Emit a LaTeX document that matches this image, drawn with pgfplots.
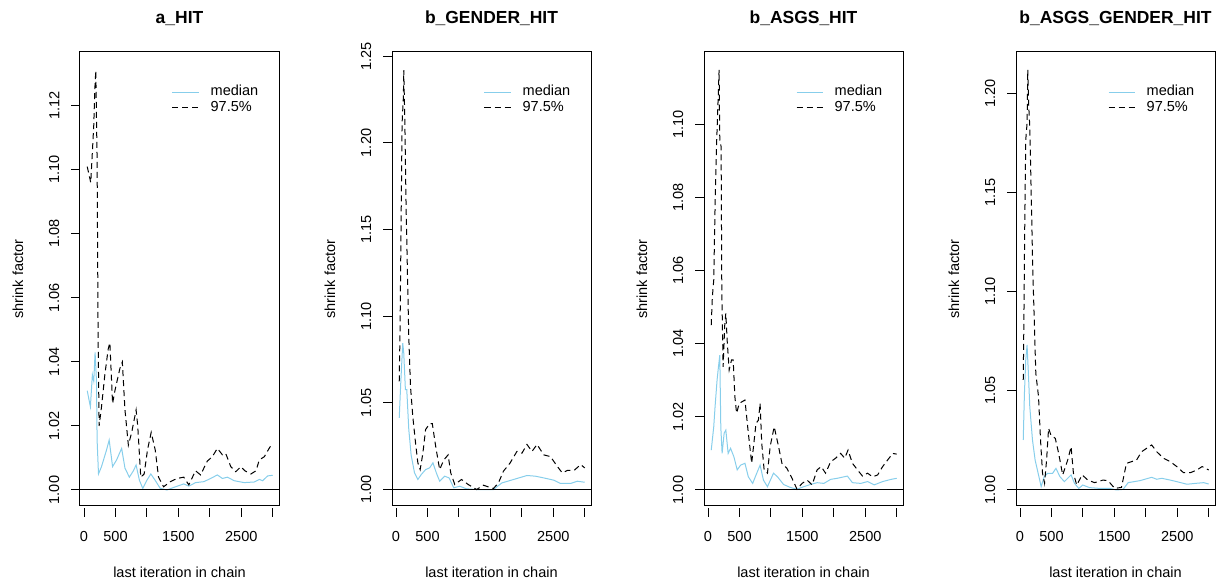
\documentclass[border=0pt]{standalone}
\usepackage{fontspec}
\setmainfont{Liberation Sans}
\usepackage{pgfplots}
\pgfplotsset{compat=1.18}
\definecolor{medblue}{RGB}{135,206,235}
\pgfplotsset{gp/.style={
  scale only axis, width=149.25pt, height=340.5pt, anchor=south west,
  xmin=-64, xmax=3100,
  axis line style={line width=0.75pt},
  tick style={line width=0.75pt, black},
  tick align=outside,
  xtick pos=left, ytick pos=left,
  major tick length=6.5pt,
  xtick={0,500,1000,1500,2000,2500,3000},
  xticklabels={0,500,,1500,,2500,},
  xtick style={yshift=-1.5pt},
  tick label style={font=\fontsize{10.9}{13}\selectfont},
  label style={font=\fontsize{10.9}{13}\selectfont},
  xlabel={last iteration in chain}, ylabel={shrink factor},
  xlabel style={at={(axis description cs:0.5,-0.145)}, anchor=center},
  ylabel style={at={(axis description cs:-0.3116,0.5)}, anchor=center},
  title style={at={(axis description cs:0.5,1.057)}, anchor=center, font=\fontsize{13.1}{16}\selectfont\bfseries},
  yticklabel style={rotate=90, anchor=south, inner ysep=8.8pt},
  xticklabel style={inner ysep=12pt},
  legend cell align=left,
  legend style={draw=none, fill=none, at={(axis description cs:0.4623,0.926)}, anchor=north west,
    inner sep=0pt, outer sep=0pt, row sep=1.65pt,
    font=\fontsize{10.9}{13}\selectfont,
    nodes={inner sep=0pt, text height=0.75em, text depth=0.25em}},
  legend image code/.code={\draw[##1] (0pt,0pt) -- (20pt,0pt); \path (28.25pt,0pt);},
  med/.style={medblue, line width=0.75pt},
  q97/.style={black, line width=0.75pt, dash pattern=on 4.5pt off 3pt},
}}
\begin{document}
\begin{tikzpicture}
\useasboundingbox (0,0) rectangle (916.5pt,438.75pt);
% ---------- panel 1
\begin{axis}[gp, at={(60pt,59.25pt)}, title={a\_HIT},
  ymin=0.9950, ymax=1.1368,
  ytick={1,1.02,1.04,1.06,1.08,1.1,1.12},
  yticklabels={1.00,1.02,1.04,1.06,1.08,1.10,1.12}]
\addplot[med] coordinates {(51,1.031)(101,1.026)(133,1.036)(155,1.034)(176,1.043)(198,1.034)(208,1.0156)(230,1.005)(278,1.0073)(358,1.0125)(400,1.0156)(454,1.0073)(518,1.0094)(598,1.013)(651,1.0068)(721,1.004)(785,1.006)(828,1.0078)(881,1.003)(934,1.0005)(998,1.003)(1062,1.005)(1132,1.003)(1212,1.0005)(1319,1.000)(1426,1.0008)(1586,1.0019)(1666,1.0012)(1773,1.0023)(1906,1.0026)(2013,1.0036)(2120,1.0047)(2200,1.0036)(2280,1.004)(2387,1.0029)(2547,1.0023)(2707,1.0025)(2787,1.0033)(2840,1.0029)(2920,1.0044)(3000,1.0046)};
\addlegendentry{median}
\addplot[q97] coordinates {(51,1.101)(107,1.096)(155,1.114)(171,1.125)(187,1.131)(208,1.103)(224,1.047)(240,1.020)(278,1.026)(331,1.036)(384,1.044)(411,1.046)(454,1.027)(491,1.031)(571,1.038)(609,1.040)(651,1.025)(705,1.014)(758,1.018)(828,1.025)(854,1.020)(902,1.004)(956,1.005)(1009,1.0125)(1068,1.018)(1132,1.0125)(1185,1.004)(1265,1.001)(1372,1.0026)(1479,1.0036)(1586,1.004)(1666,1.0016)(1773,1.006)(1853,1.0047)(1959,1.009)(2040,1.0104)(2120,1.013)(2200,1.011)(2253,1.0114)(2333,1.0073)(2413,1.0057)(2493,1.0073)(2557,1.006)(2654,1.005)(2734,1.006)(2787,1.0094)(2867,1.0104)(2958,1.0135)(3000,1.0138)};
\addlegendentry{97.5\%}
\addplot[black, line width=0.75pt, forget plot] coordinates {(-64,1)(3100,1)};
\end{axis}
% ---------- panel 2
\begin{axis}[gp, at={(294pt,59.25pt)}, title={b\_GENDER\_HIT},
  ymin=0.9905, ymax=1.2525,
  ytick={1,1.05,1.1,1.15,1.2,1.25},
  yticklabels={1.00,1.05,1.10,1.15,1.20,1.25}]
\addplot[med] coordinates {(51,1.0413)(75,1.0614)(107,1.0845)(123,1.0787)(149,1.0576)(171,1.0576)(203,1.0346)(240,1.020)(294,1.0096)(347,1.0058)(400,1.0086)(470,1.0115)(534,1.0125)(587,1.0154)(641,1.0096)(694,1.0048)(774,1.0077)(844,1.0067)(918,1.001)(1014,1.0019)(1121,1.0004)(1281,1.0)(1548,1.0)(1682,1.0038)(1869,1.0058)(2082,1.0081)(2216,1.0077)(2349,1.0067)(2509,1.0054)(2616,1.0035)(2776,1.0035)(2883,1.0048)(3000,1.0042)};
\addlegendentry{median}
\addplot[q97] coordinates {(51,1.0624)(64,1.092)(80,1.152)(96,1.211)(117,1.2266)(123,1.242)(139,1.215)(160,1.163)(203,1.088)(230,1.0595)(267,1.042)(310,1.027)(347,1.0154)(384,1.0115)(427,1.021)(470,1.0346)(534,1.038)(577,1.038)(630,1.025)(694,1.0115)(758,1.017)(828,1.020)(870,1.0096)(934,1.0029)(1041,1.0058)(1148,1.0029)(1281,1.000)(1388,1.0025)(1548,1.0006)(1628,1.0038)(1708,1.0106)(1815,1.0154)(1922,1.022)(2002,1.021)(2082,1.026)(2162,1.022)(2242,1.026)(2349,1.020)(2456,1.019)(2563,1.0134)(2643,1.0096)(2723,1.011)(2830,1.011)(2936,1.0144)(3000,1.0125)};
\addlegendentry{97.5\%}
\addplot[black, line width=0.75pt, forget plot] coordinates {(-64,1)(3100,1)};
\end{axis}
% ---------- panel 3
\begin{axis}[gp, at={(528pt,59.25pt)}, title={b\_ASGS\_HIT},
  ymin=0.99562, ymax=1.1198,
  ytick={1,1.02,1.04,1.06,1.08,1.1},
  yticklabels={1.00,1.02,1.04,1.06,1.08,1.10}]
\addplot[med] coordinates {(51,1.0109)(91,1.0173)(112,1.0228)(144,1.0301)(166,1.0337)(187,1.0369)(203,1.0173)(224,1.01)(256,1.0155)(283,1.0164)(320,1.01)(358,1.0114)(411,1.0091)(464,1.0055)(518,1.0068)(587,1.0073)(641,1.0036)(710,1.0018)(763,1.0041)(828,1.0068)(881,1.0027)(945,1.0009)(1041,1.0046)(1105,1.0036)(1201,1.0015)(1308,1.0007)(1415,1.0002)(1522,1.0009)(1628,1.0015)(1735,1.002)(1842,1.0018)(1949,1.0029)(2056,1.0032)(2162,1.0036)(2216,1.0038)(2296,1.002)(2429,1.0018)(2536,1.0023)(2643,1.0014)(2776,1.0023)(2910,1.0029)(3000,1.0032)};
\addlegendentry{median}
\addplot[q97] coordinates {(51,1.0451)(69,1.0529)(91,1.0574)(112,1.0775)(133,1.093)(160,1.1067)(176,1.1149)(187,1.0957)(208,1.0939)(219,1.0547)(240,1.0337)(267,1.0456)(283,1.0483)(304,1.041)(336,1.0328)(374,1.0356)(400,1.0356)(427,1.0255)(454,1.021)(497,1.0237)(587,1.0246)(641,1.0155)(694,1.0073)(763,1.0182)(801,1.0191)(828,1.0237)(854,1.0128)(892,1.0055)(945,1.0046)(988,1.0119)(1052,1.0173)(1121,1.0119)(1175,1.0073)(1255,1.0059)(1335,1.0032)(1415,1.0002)(1495,1.0018)(1575,1.0027)(1655,1.0014)(1735,1.0055)(1799,1.0064)(1869,1.0046)(1949,1.0077)(2029,1.0087)(2109,1.01)(2173,1.0087)(2226,1.0109)(2296,1.0073)(2376,1.0055)(2456,1.0038)(2536,1.0046)(2616,1.0036)(2696,1.0041)(2776,1.0064)(2856,1.0082)(2936,1.01)(3000,1.0098)};
\addlegendentry{97.5\%}
\addplot[black, line width=0.75pt, forget plot] coordinates {(-64,1)(3100,1)};
\end{axis}
% ---------- panel 4
\begin{axis}[gp, at={(762pt,59.25pt)}, title={b\_ASGS\_GENDER\_HIT},
  ymin=0.99193, ymax=1.2208,
  ytick={1,1.05,1.1,1.15,1.2},
  yticklabels={1.00,1.05,1.10,1.15,1.20}]
\addplot[med] coordinates {(51,1.0252)(70,1.0487)(91,1.0655)(112,1.0731)(133,1.0588)(155,1.042)(198,1.0252)(240,1.0151)(294,1.0076)(336,1.0017)(384,1.0067)(438,1.0084)(518,1.0084)(571,1.0109)(635,1.0067)(705,1.0042)(758,1.0059)(812,1.0076)(865,1.0034)(934,1.0008)(998,1.0025)(1105,1.0012)(1265,1.0008)(1425,1.0008)(1532,1.0)(1639,1.0003)(1719,1.0037)(1906,1.0047)(2093,1.0064)(2173,1.0054)(2253,1.0059)(2387,1.005)(2493,1.0042)(2654,1.0029)(2814,1.0034)(2920,1.0037)(3000,1.003)};
\addlegendentry{median}
\addplot[q97] coordinates {(51,1.0555)(60,1.0807)(75,1.1328)(91,1.1765)(112,1.1849)(123,1.2118)(139,1.1933)(155,1.1832)(182,1.1429)(203,1.1109)(251,1.0588)(294,1.0471)(326,1.0252)(358,1.0084)(390,1.0034)(422,1.0151)(454,1.0311)(491,1.0277)(561,1.026)(614,1.0185)(678,1.0076)(758,1.0151)(812,1.0218)(849,1.0084)(902,1.0025)(988,1.0076)(1078,1.005)(1185,1.0037)(1319,1.005)(1399,1.0047)(1506,1.0008)(1613,1.0013)(1692,1.0134)(1773,1.0143)(1853,1.0151)(1933,1.0193)(2013,1.021)(2093,1.0227)(2173,1.0193)(2280,1.016)(2387,1.0143)(2493,1.0118)(2600,1.0087)(2707,1.0087)(2814,1.0101)(2894,1.0118)(3000,1.0101)};
\addlegendentry{97.5\%}
\addplot[black, line width=0.75pt, forget plot] coordinates {(-64,1)(3100,1)};
\end{axis}
\end{tikzpicture}
\end{document}
